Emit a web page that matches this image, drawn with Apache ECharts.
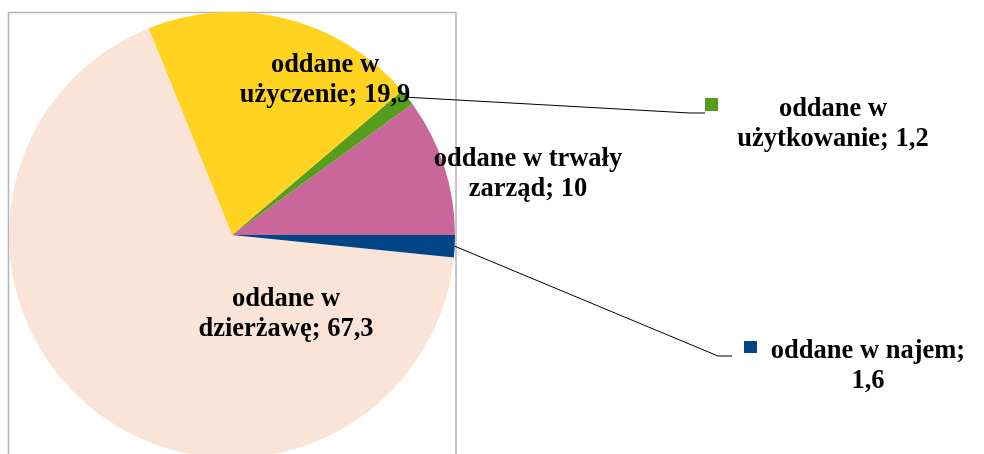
<!DOCTYPE html>
<html>
<head>
<meta charset="utf-8">
<script src="https://cdn.jsdelivr.net/npm/echarts@6/dist/echarts.min.js"></script>
<style>
    html, body { margin: 0; padding: 0; background: #fff; }
    #chart { width: 984px; height: 454px; }
</style>
</head>
<body>
<div id="chart"></div>
<script>
    // dane
    let categories = ['oddane w trwały\nzarząd', 'oddane w\nużytkowanie', 'oddane w\nużyczenie', 'oddane w\ndzierżawę', 'oddane w najem'];
    let values = [10, 1.2, 19.9, 67.3, 1.6];
    let colors = ['#C9679A', '#579D1C', '#FFD320', '#FAE4D8', '#004586'];

    // label centres and leader line bends (layout only)
    let labelPos = [[528, 174], [833, 124], [325, 80], [286, 314], [868, 366]];
    let leader = {1: [[690, 113], [705, 113]], 4: [[718, 356], [732, 356]]};

    let chart = echarts.init(document.getElementById('chart'));

    let fmt = function (v) {
        return String(v).replace('.', ',');
    };

    let outsideIdx = [1, 4];

    let option = {
        animation: false,
        color: colors,
        graphic: [{
            type: 'rect',
            z: -10,
            shape: {x: 8.5, y: 12.5, width: 447.5, height: 500},
            style: {fill: 'none', stroke: '#B5B5B5', lineWidth: 1.5}
        }],
        legend: [
            {
                data: [categories[1]], left: 705, top: 98, padding: 0,
                itemWidth: 13, itemHeight: 13, icon: 'rect', selectedMode: false,
                formatter: function () { return ''; }
            },
            {
                data: [categories[4]], left: 744, top: 341, padding: 0,
                itemWidth: 13, itemHeight: 12, icon: 'rect', selectedMode: false,
                formatter: function () { return ''; }
            }
        ],
        series: [{
            type: 'pie',
            center: [232, 235],
            radius: 223,
            startAngle: 0,
            clockwise: false,
            avoidLabelOverlap: false,
            itemStyle: {borderWidth: 0},
            label: {
                show: true,
                position: 'inside',
                fontFamily: 'Liberation Serif',
                fontWeight: 'bold',
                fontSize: 26.5,
                lineHeight: 30,
                color: '#000',
                formatter: function (p) {
                    let sep = p.name.indexOf('\n') >= 0 ? ' ' : '\n';
                    return p.name + ';' + sep + fmt(p.value);
                }
            },
            labelLine: {show: false},
            labelLayout: function (params) {
                let i = params.dataIndex;
                let res = {
                    x: labelPos[i][0],
                    y: labelPos[i][1],
                    align: 'center',
                    verticalAlign: 'middle'
                };
                if (leader[i] && params.labelLinePoints) {
                    res.labelLinePoints = [params.labelLinePoints[0], leader[i][0], leader[i][1]];
                }
                return res;
            },
            data: categories.map(function (c, i) {
                let item = {name: c, value: values[i]};
                if (outsideIdx.indexOf(i) >= 0) {
                    item.label = {position: 'outside'};
                    item.labelLine = {show: true, length: 10, length2: 10, lineStyle: {color: '#000', width: 1}};
                }
                return item;
            })
        }]
    };
    chart.setOption(option);
    window.addEventListener('resize', function () {
        chart.resize();
    });
</script>
</body>
</html>
